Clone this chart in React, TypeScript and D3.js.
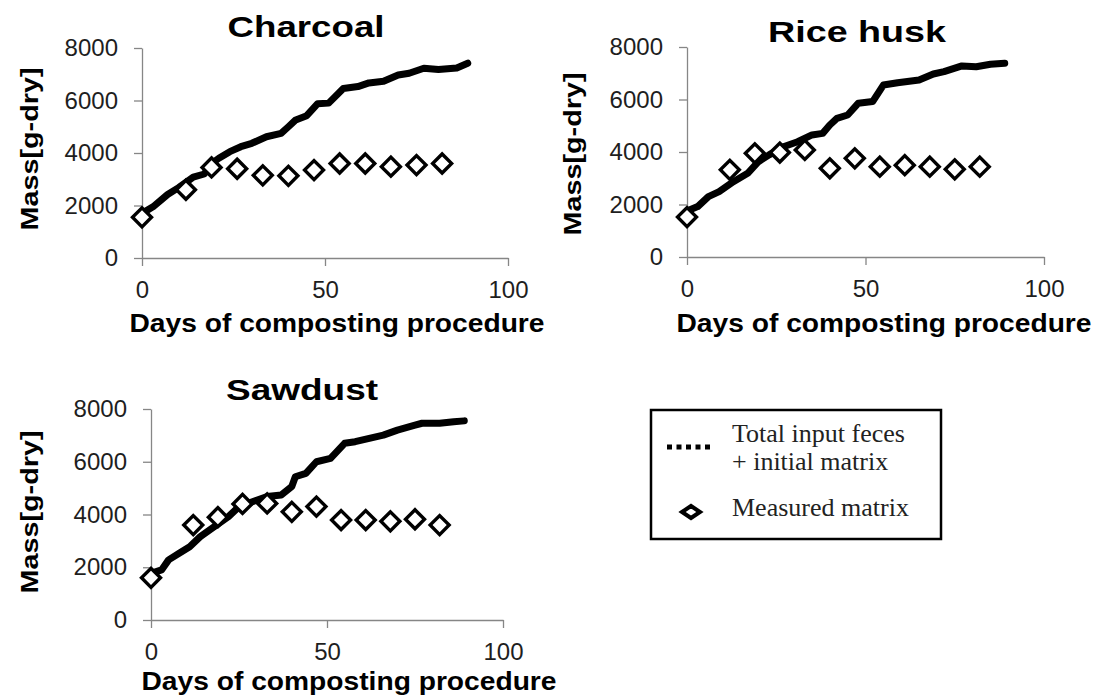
import React, { useEffect, useRef } from "react";
import * as d3 from "d3";

const titles = ["Charcoal", "Rice husk", "Sawdust"];
const xLabel = "Days of composting procedure";
const yLabel = "Mass[g-dry]";
const yTicks = [0, 2000, 4000, 6000, 8000];
const xTicks = [0, 50, 100];
const legendLabels = ["Total input feces", "+ initial matrix", "Measured matrix"];

// measured matrix (diamonds), sampled weekly
const measuredDays = [0, 12, 19, 26, 33, 40, 47, 54, 61, 68, 75, 82];
const charcoalMeasured = [1550, 2600, 3450, 3400, 3150, 3130, 3350, 3600, 3600, 3480, 3540, 3600];
const riceHuskMeasured = [1520, 3320, 3950, 3980, 4080, 3380, 3760, 3440, 3500, 3440, 3340, 3440];
const sawdustMeasured = [1600, 3600, 3900, 4400, 4420, 4100, 4300, 3790, 3790, 3740, 3820, 3600];

// total input feces + initial matrix
const charcoalTotalDays = [0, 3, 7, 10, 14, 17, 19, 21, 24, 27, 30, 34, 38, 40, 42, 45, 48, 51, 55, 59, 62, 66, 70, 73, 77, 81, 86, 89];
const charcoalTotalMass = [1700, 1950, 2420, 2680, 3080, 3200, 3600, 3800, 4050, 4240, 4370, 4620, 4750, 5000, 5260, 5420, 5880, 5900, 6460, 6530, 6670, 6730, 6970, 7040, 7230, 7180, 7240, 7420];
const riceHuskTotalDays = [0, 3, 6, 9, 13, 17, 20, 23, 27, 31, 35, 38, 40, 42, 45, 48, 52, 55, 59, 65, 69, 72, 77, 81, 85, 89];
const riceHuskTotalMass = [1750, 1920, 2300, 2490, 2870, 3190, 3630, 3890, 4200, 4390, 4650, 4710, 5030, 5280, 5410, 5860, 5920, 6550, 6640, 6740, 6970, 7060, 7280, 7250, 7340, 7380];
const sawdustTotalDays = [0, 3, 5, 8, 11, 14, 18, 22, 25, 29, 33, 37, 40, 41, 44, 47, 51, 55, 58, 62, 66, 70, 75, 77, 82, 86, 89];
const sawdustTotalMass = [1770, 1900, 2280, 2530, 2780, 3160, 3540, 3920, 4300, 4490, 4680, 4740, 5060, 5430, 5560, 6000, 6130, 6700, 6760, 6890, 7010, 7200, 7390, 7460, 7460, 7520, 7550];

const layout = [
  { left: 142, right: 508, top: 48, bottom: 258, titleX: 306, titleY: 37, titleW: 157, yLabX: 38, yLabY: 149, xLabX: 337, xLabY: 332 },
  { left: 687, right: 1044, top: 47, bottom: 257, titleX: 857, titleY: 42, titleW: 178, yLabX: 581, yLabY: 154, xLabX: 884, xLabY: 332 },
  { left: 151, right: 503, top: 409, bottom: 620, titleX: 302, titleY: 400, titleW: 152, yLabX: 38, yLabY: 512, xLabX: 349, xLabY: 690 },
];

const sans = "'Liberation Sans', Arial, sans-serif";
const serif = "'Liberation Serif', 'Times New Roman', serif";

export default function App() {
  const ref = useRef<SVGSVGElement>(null);

  useEffect(() => {
    document.body.style.margin = "0";
    const svg = d3.select(ref.current);
    svg.selectAll("*").remove();

    const panels = [
      { total: charcoalTotalDays.map((d, i) => [d, charcoalTotalMass[i]]), measured: measuredDays.map((d, i) => [d, charcoalMeasured[i]]) },
      { total: riceHuskTotalDays.map((d, i) => [d, riceHuskTotalMass[i]]), measured: measuredDays.map((d, i) => [d, riceHuskMeasured[i]]) },
      { total: sawdustTotalDays.map((d, i) => [d, sawdustTotalMass[i]]), measured: measuredDays.map((d, i) => [d, sawdustMeasured[i]]) },
    ];

    panels.forEach((p, k) => {
      const L = layout[k];
      const x = d3.scaleLinear().domain([0, 100]).range([L.left, L.right]);
      const y = d3.scaleLinear().domain([0, 8000]).range([L.bottom, L.top]);
      const g = svg.append("g");

      const yAxis = g.append("g")
        .attr("transform", `translate(${L.left},0)`)
        .call(d3.axisLeft(y).tickValues(yTicks).tickSize(8).tickSizeOuter(0).tickPadding(16).tickFormat(d3.format("d")));
      const xAxis = g.append("g")
        .attr("transform", `translate(0,${L.bottom})`)
        .call(d3.axisBottom(x).tickValues(xTicks).tickSize(8).tickSizeOuter(0).tickPadding(15).tickFormat(d3.format("d")));

      [yAxis, xAxis].forEach(a => {
        a.attr("font-size", 24).attr("font-family", sans);
        a.selectAll(".domain, .tick line").attr("stroke", "#868686").attr("stroke-width", 1.3);
        a.selectAll("text").attr("fill", "#1e1e1e");
      });

      const line = d3.line<number[]>().x(d => x(d[0])).y(d => y(d[1]));
      g.append("path")
        .datum(p.total)
        .attr("d", line)
        .attr("fill", "none")
        .attr("stroke", "#000")
        .attr("stroke-width", 7)
        .attr("stroke-linejoin", "round")
        .attr("stroke-linecap", "round");

      g.append("g")
        .selectAll("path")
        .data(p.measured)
        .join("path")
        .attr("d", d3.symbol(d3.symbolSquare, 180))
        .attr("transform", d => `translate(${x(d[0])},${y(d[1])}) rotate(45)`)
        .attr("fill", "#fff")
        .attr("stroke", "#000")
        .attr("stroke-width", 3.4);

      g.append("text")
        .attr("x", L.titleX).attr("y", L.titleY)
        .attr("text-anchor", "middle")
        .attr("font-family", sans).attr("font-weight", "bold").attr("font-size", 30)
        .attr("textLength", L.titleW).attr("lengthAdjust", "spacingAndGlyphs")
        .text(titles[k]);

      g.append("text")
        .attr("transform", `translate(${L.yLabX},${L.yLabY}) rotate(-90)`)
        .attr("text-anchor", "middle")
        .attr("font-family", sans).attr("font-weight", "bold").attr("font-size", 24)
        .attr("textLength", 163).attr("lengthAdjust", "spacingAndGlyphs")
        .text(yLabel);

      g.append("text")
        .attr("x", L.xLabX).attr("y", L.xLabY)
        .attr("text-anchor", "middle")
        .attr("font-family", sans).attr("font-weight", "bold").attr("font-size", 26)
        .attr("textLength", 415).attr("lengthAdjust", "spacingAndGlyphs")
        .text(xLabel);
    });

    // legend
    const lg = svg.append("g");
    lg.append("rect")
      .attr("x", 651).attr("y", 410).attr("width", 290).attr("height", 129)
      .attr("fill", "#fff").attr("stroke", "#000").attr("stroke-width", 2.5);
    lg.append("line")
      .attr("x1", 667).attr("x2", 713).attr("y1", 447).attr("y2", 447)
      .attr("stroke", "#000").attr("stroke-width", 5).attr("stroke-dasharray", "5 4.5");
    lg.append("path")
      .attr("d", "M-9,0L0,-6L9,0L0,6Z")
      .attr("transform", "translate(691,512)")
      .attr("fill", "#fff").attr("stroke", "#000").attr("stroke-width", 4);
    lg.selectAll("text")
      .data(legendLabels)
      .join("text")
      .attr("x", 732)
      .attr("y", (d, i) => [442, 470, 516][i])
      .attr("font-family", serif).attr("font-size", 26).attr("fill", "#222")
      .text(d => d);
  }, []);

  return <svg ref={ref} width={1098} height={695} style={{ display: "block", background: "#fff" }} />;
}
